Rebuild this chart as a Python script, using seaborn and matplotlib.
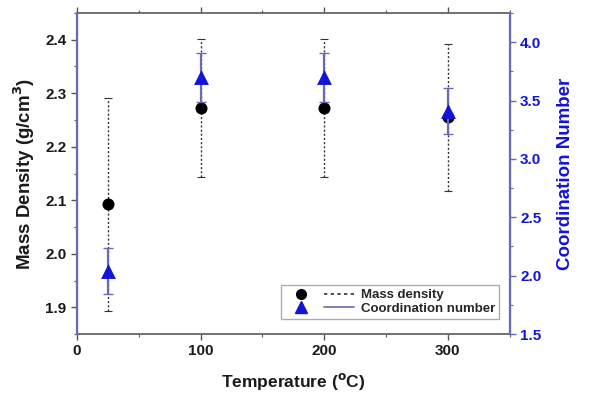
import matplotlib
matplotlib.use("Agg")
import matplotlib.pyplot as plt
from matplotlib.lines import Line2D
from matplotlib.legend_handler import HandlerTuple
from matplotlib.ticker import MultipleLocator
import pandas as pd
import seaborn as sns

# data
temperature = [25, 100, 200, 300]
mass_density = [2.093, 2.272, 2.272, 2.255]
mass_density_err = [0.199, 0.129, 0.129, 0.137]
coord_number = [2.04, 3.70, 3.70, 3.41]
coord_number_err = [0.195, 0.21, 0.21, 0.20]

df = pd.DataFrame({"T": temperature, "rho": mass_density, "rho_err": mass_density_err,
                   "cn": coord_number, "cn_err": coord_number_err})

sns.set_style("ticks")
plt.rcParams["font.family"] = ["Liberation Sans", "DejaVu Sans"]
plt.rcParams["font.weight"] = "bold"

blue = "#1414d8"
spine_blue = "#6a6ab4"

fig = plt.figure(figsize=(5.9, 3.93), dpi=100)
ax = fig.add_axes([0.1305, 0.150, 0.7335, 0.817])
ax2 = ax.twinx()

# mass density
eb = ax.errorbar(df["T"], df["rho"], yerr=df["rho_err"], fmt="none", ecolor="#333333",
                 elinewidth=1.0, capsize=3, capthick=0.8, zorder=2)
eb[2][0].set_linestyle((0, (1.5, 1.5)))
sns.scatterplot(data=df, x="T", y="rho", ax=ax, color="black", marker="o", s=75,
                edgecolor="black", linewidth=0, zorder=3, legend=False)

# coordination number
ax2.errorbar(df["T"], df["cn"], yerr=df["cn_err"], fmt="none", ecolor=spine_blue,
             elinewidth=1.6, capsize=3.5, capthick=1.0, zorder=2)
sns.scatterplot(data=df, x="T", y="cn", ax=ax2, color=blue, marker="^", s=115,
                edgecolor=blue, linewidth=0, zorder=3, legend=False)

ax.set_xlim(0, 350)
ax.set_ylim(1.85, 2.45)
ax2.set_ylim(1.5, 4.25)

ax.xaxis.set_major_locator(MultipleLocator(100))
ax.xaxis.set_minor_locator(MultipleLocator(50))
ax.yaxis.set_major_locator(MultipleLocator(0.1))
ax.yaxis.set_minor_locator(MultipleLocator(0.05))
ax2.yaxis.set_major_locator(MultipleLocator(0.5))
ax2.yaxis.set_minor_locator(MultipleLocator(0.25))

ax.tick_params(axis="both", which="major", labelsize=11, length=4, width=1.0,
               direction="out", color="#555555", labelcolor="#1a1a1a")
ax.tick_params(axis="both", which="minor", length=2.5, width=0.8, color="#555555")
ax.tick_params(axis="x", top=True, which="both")
ax2.tick_params(axis="y", which="major", labelsize=11, length=4, width=1.0,
                colors=blue, color=spine_blue)
ax2.tick_params(axis="y", which="minor", length=2.5, width=0.8, color=spine_blue)

for lab in ax.get_xticklabels() + ax.get_yticklabels() + ax2.get_yticklabels():
    lab.set_fontweight("bold")

for sp in ["top", "bottom"]:
    ax.spines[sp].set_color("#666666")
    ax.spines[sp].set_linewidth(1.3)
ax2.spines["left"].set_color(spine_blue)
ax2.spines["right"].set_color(spine_blue)
ax2.spines["left"].set_linewidth(1.6)
ax2.spines["right"].set_linewidth(1.6)
ax2.spines["top"].set_visible(False)
ax2.spines["bottom"].set_visible(False)

ax.set_xlabel("Temperature ($^{\\mathbf{o}}$C)", fontsize=12.5, fontweight="bold",
              labelpad=9, color="#1a1a1a")
ax.set_ylabel("Mass Density (g/cm$^{\\mathbf{3}}$)", fontsize=13.5, fontweight="bold",
              labelpad=6, color="#1a1a1a")
ax2.set_ylabel("Coordination Number", fontsize=13.5, fontweight="bold", color=blue, labelpad=11)

h1 = (Line2D([], [], marker="o", color="black", linestyle="none", markersize=7),
      Line2D([], [], color="#333333", linestyle=(0, (2, 2)), linewidth=1.2))
h2 = (Line2D([], [], marker="^", color=blue, linestyle="none", markersize=8),
      Line2D([], [], color=spine_blue, linestyle="-", linewidth=1.2))
leg = ax2.legend([h1, h2], ["Mass density", "Coordination number"],
                 handler_map={tuple: HandlerTuple(ndivide=None, pad=0.6)},
                 loc="lower right", bbox_to_anchor=(0.99, 0.027), fontsize=9.5,
                 frameon=True, fancybox=False, edgecolor="#999999", borderpad=0.3,
                 labelspacing=0.1, handlelength=5.2, handletextpad=0.5)
for t in leg.get_texts():
    t.set_fontweight("bold")
leg.get_frame().set_linewidth(1.0)

fig.savefig("out.png", dpi=100)
